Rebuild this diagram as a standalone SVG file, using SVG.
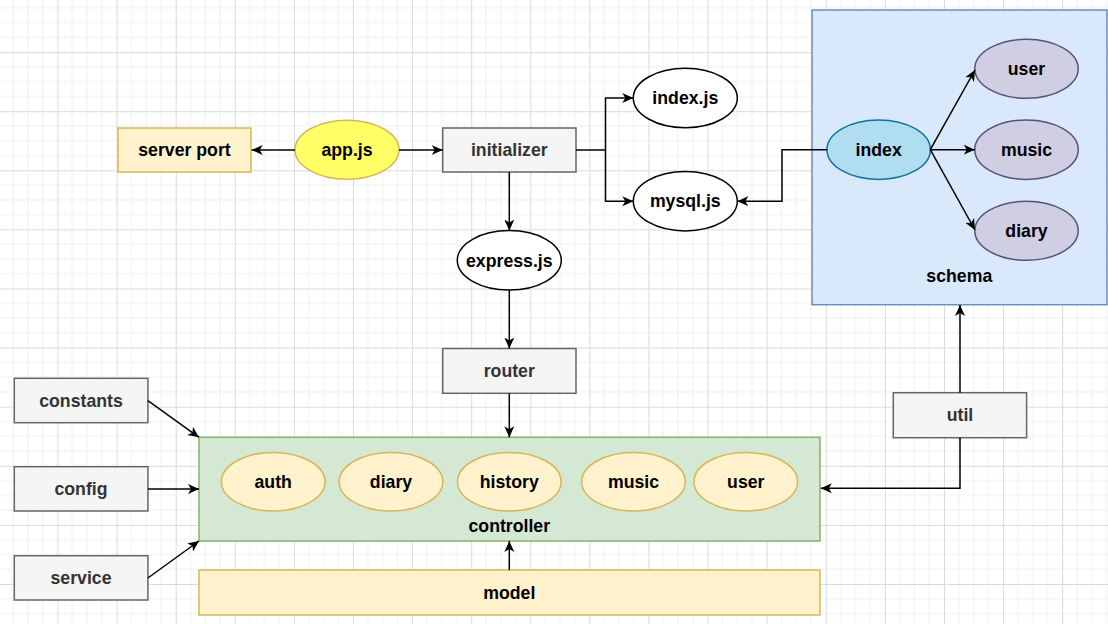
<svg xmlns="http://www.w3.org/2000/svg" width="1108" height="624" viewBox="0 0 1108 624">
<defs>
<pattern id="grid" x="57.5" y="52.1" width="59.1" height="59.1" patternUnits="userSpaceOnUse">
<path d="M14.775 0V59.1M29.55 0V59.1M44.325 0V59.1M0 14.775H59.1M0 29.55H59.1M0 44.325H59.1" stroke="#efefef" stroke-width="1" fill="none"/>
<path d="M0.5 0V59.1M0 0.5H59.1" stroke="#dadada" stroke-width="1" fill="none"/>
</pattern>
<marker id="arr" markerUnits="userSpaceOnUse" markerWidth="14" markerHeight="12" refX="11" refY="5.5" orient="auto" viewBox="0 0 14 12">
<path d="M0 0.5L11 5.5L0 10.5L3 5.5Z" fill="#000"/>
</marker>
</defs>
<style>
text{font-family:"Liberation Sans",Arial,sans-serif;font-size:17.7px;font-weight:bold;text-anchor:middle;fill:#000}
.gray rect{fill:#f5f5f5;stroke:#666666;stroke-width:1.5}
.gray text{fill:#333333}
.yel{fill:#fff2cc;stroke:#d6b656;stroke-width:1.5}
.wht{fill:#ffffff;stroke:#000;stroke-width:1.5}
.pur{fill:#d0cee2;stroke:#56517e;stroke-width:1.5}
.edge{fill:none;stroke:#000;stroke-width:1.5;marker-end:url(#arr)}
</style>
<rect width="1108" height="624" fill="#ffffff"/>
<rect width="1108" height="624" fill="url(#grid)"/>

<g id="schema">
<rect x="812" y="10" width="295" height="294.7" fill="#dae8fc" stroke="#6c8ebf" stroke-width="1.5"/>
<text x="959.3" y="282">schema</text>
</g>
<g id="controller">
<rect x="199" y="437.3" width="621" height="103.7" fill="#d5e8d4" stroke="#82b366" stroke-width="1.5"/>
<text x="509.3" y="532">controller</text>
</g>
<g id="model">
<rect class="yel" x="199" y="570" width="621" height="45"/>
<text x="509.3" y="598.5">model</text>
</g>

<g id="server-port">
<rect class="yel" x="118" y="128" width="133" height="44"/>
<text x="184.5" y="156">server port</text>
</g>
<g id="app-js">
<ellipse cx="347" cy="149.7" rx="52" ry="29.5" fill="#ffff66" stroke="#d6b656" stroke-width="1.5"/>
<text x="347" y="156">app.js</text>
</g>
<g id="initializer" class="gray">
<rect x="442.7" y="128" width="133.3" height="44"/>
<text x="509.3" y="156">initializer</text>
</g>
<g id="express-js">
<ellipse class="wht" cx="509.3" cy="260.3" rx="52" ry="29.7"/>
<text x="509.3" y="266.5">express.js</text>
</g>
<g id="router" class="gray">
<rect x="442.7" y="348.5" width="133.3" height="44.8"/>
<text x="509.3" y="377">router</text>
</g>
<g id="index-js">
<ellipse class="wht" cx="685.3" cy="98" rx="52" ry="29.7"/>
<text x="685.3" y="104.2">index.js</text>
</g>
<g id="mysql-js">
<ellipse class="wht" cx="685.3" cy="201.2" rx="52" ry="29.7"/>
<text x="685.3" y="207.4">mysql.js</text>
</g>
<g id="schema-index">
<ellipse cx="878.7" cy="149.7" rx="51.7" ry="29.7" fill="#b1ddf0" stroke="#10739e" stroke-width="1.5"/>
<text x="878.7" y="156">index</text>
</g>
<g id="schema-user">
<ellipse class="pur" cx="1026.5" cy="68.8" rx="51.7" ry="29.5"/>
<text x="1026.5" y="75">user</text>
</g>
<g id="schema-music">
<ellipse class="pur" cx="1026.5" cy="149.7" rx="51.7" ry="29.7"/>
<text x="1026.5" y="156">music</text>
</g>
<g id="schema-diary">
<ellipse class="pur" cx="1026.5" cy="230.8" rx="51.7" ry="29.5"/>
<text x="1026.5" y="237">diary</text>
</g>
<g id="util" class="gray">
<rect x="893.3" y="392.7" width="133.3" height="45"/>
<text x="960" y="421">util</text>
</g>
<g id="constants" class="gray">
<rect x="14.3" y="378.3" width="133.6" height="44.4"/>
<text x="81" y="406.7">constants</text>
</g>
<g id="config" class="gray">
<rect x="14.3" y="466.7" width="133.6" height="44.3"/>
<text x="81" y="495">config</text>
</g>
<g id="service" class="gray">
<rect x="14.3" y="555.7" width="133.6" height="44.3"/>
<text x="81" y="584">service</text>
</g>
<g id="ctrl-auth">
<ellipse class="yel" cx="273.2" cy="481.7" rx="51.8" ry="29.3"/>
<text x="273.2" y="488">auth</text>
</g>
<g id="ctrl-diary">
<ellipse class="yel" cx="391" cy="481.7" rx="51.8" ry="29.3"/>
<text x="391" y="488">diary</text>
</g>
<g id="ctrl-history">
<ellipse class="yel" cx="509.3" cy="481.7" rx="51.8" ry="29.3"/>
<text x="509.3" y="488">history</text>
</g>
<g id="ctrl-music">
<ellipse class="yel" cx="633.5" cy="481.7" rx="51.8" ry="29.3"/>
<text x="633.5" y="488">music</text>
</g>
<g id="ctrl-user">
<ellipse class="yel" cx="745.8" cy="481.7" rx="51.8" ry="29.3"/>
<text x="745.8" y="488">user</text>
</g>

<g id="connectors">
<path class="edge" d="M295 150H251.7"/>
<path class="edge" d="M399 150H442.7"/>
<path class="edge" d="M509.3 172V230.6"/>
<path class="edge" d="M576 150H605.5V98H633.3"/>
<path class="edge" d="M605.5 150V201.2H633.3"/>
<path class="edge" d="M827 149.7H782V201.2H737.3"/>
<path class="edge" d="M930.3 149.7L975 70"/>
<path class="edge" d="M930.3 149.7H974.8"/>
<path class="edge" d="M930.3 149.7L975 230"/>
<path class="edge" d="M509.3 290V348.5"/>
<path class="edge" d="M509.3 393.3V437.3"/>
<path class="edge" d="M509.3 570V541"/>
<path class="edge" d="M960 392.7V305"/>
<path class="edge" d="M960 437.7V488.3H820.8"/>
<path class="edge" d="M147.9 400.7L199 437.3"/>
<path class="edge" d="M147.9 489H199"/>
<path class="edge" d="M147.9 578L199 541"/>
</g>
</svg>
